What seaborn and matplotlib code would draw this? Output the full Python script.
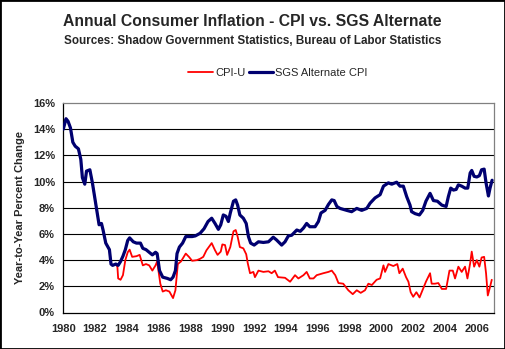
import numpy as np
import pandas as pd
import matplotlib
matplotlib.use("Agg")
import matplotlib.pyplot as plt
import seaborn as sns
from matplotlib.patches import Rectangle
from matplotlib.ticker import FixedLocator, FuncFormatter

# ---------------- data ----------------
sgs_years = [1980.0, 1980.17, 1980.3, 1980.45, 1980.6, 1980.75, 1980.95, 1981.1, 1981.2, 1981.35,
             1981.46, 1981.67, 1981.83, 1982.0, 1982.1, 1982.25, 1982.4, 1982.5, 1982.67, 1982.9,
             1983.0, 1983.1, 1983.3, 1983.45, 1983.6, 1983.75, 1983.9, 1984.05, 1984.17, 1984.4,
             1984.6, 1984.85, 1985.0, 1985.2, 1985.4, 1985.6, 1985.8, 1985.9, 1986.05, 1986.25,
             1986.55, 1986.75, 1986.9, 1987.05, 1987.15, 1987.3, 1987.5, 1987.7, 1988.1, 1988.3,
             1988.6, 1988.85, 1989.1, 1989.33, 1989.54, 1989.75, 1989.9, 1990.06, 1990.23, 1990.38,
             1990.5, 1990.7, 1990.84, 1990.96, 1991.1, 1991.32, 1991.5, 1991.64, 1991.78, 1992.0,
             1992.27, 1992.58, 1992.9, 1993.2, 1993.4, 1993.73, 1993.94, 1994.15, 1994.36, 1994.68,
             1994.9, 1995.1, 1995.3, 1995.5, 1995.83, 1996.04, 1996.2, 1996.46, 1996.67, 1996.88,
             1997.03, 1997.2, 1997.4, 1997.82, 1998.13, 1998.45, 1998.76, 1999.08, 1999.29, 1999.6,
             1999.92, 2000.13, 2000.44, 2000.65, 2000.96, 2001.17, 2001.38, 2001.59, 2001.8, 2001.9,
             2002.12, 2002.39, 2002.6, 2002.8, 2003.06, 2003.27, 2003.52, 2003.8, 2004.07, 2004.21,
             2004.36, 2004.53, 2004.7, 2004.84, 2005.05, 2005.26, 2005.43, 2005.58, 2005.68, 2005.83,
             2006.0, 2006.16, 2006.3, 2006.46, 2006.58, 2006.73, 2006.83, 2006.96]
sgs_values = [14.0, 14.8, 14.6, 14.1, 13.0, 12.7, 12.5, 11.7, 10.3, 9.8,
              10.8, 10.9, 9.9, 8.6, 7.8, 6.7, 6.8, 6.3, 5.3, 4.8,
              3.7, 3.6, 3.7, 3.6, 3.9, 4.3, 4.8, 5.5, 5.7, 5.4,
              5.3, 5.3, 4.9, 4.8, 4.6, 4.4, 4.6, 4.5, 3.2, 2.7,
              2.6, 2.5, 2.7, 3.2, 4.5, 5.0, 5.3, 5.8, 5.8, 5.85,
              6.05, 6.4, 6.95, 7.2, 6.8, 6.35, 6.7, 7.45, 7.35, 6.95,
              7.6, 8.5, 8.6, 8.2, 7.45, 7.2, 6.8, 5.8, 5.3, 5.15,
              5.4, 5.35, 5.4, 5.75, 5.55, 5.15, 5.4, 5.85, 5.9, 6.3,
              6.2, 6.45, 6.8, 6.55, 6.55, 6.95, 7.6, 7.8, 8.25, 8.6,
              8.55, 8.1, 7.95, 7.8, 7.7, 7.95, 7.8, 7.95, 8.35, 8.75,
              9.0, 9.65, 9.9, 9.8, 9.95, 9.65, 9.65, 8.85, 8.2, 7.7,
              7.55, 7.45, 7.8, 8.5, 9.1, 8.55, 8.5, 8.2, 8.1, 8.85,
              9.5, 9.35, 9.4, 9.75, 9.65, 9.5, 9.5, 10.65, 10.85, 10.4,
              10.35, 10.45, 10.9, 10.95, 9.9, 8.9, 9.5, 10.1]

cpi_years = [1980.0, 1980.17, 1980.3, 1980.45, 1980.6, 1980.75, 1980.95, 1981.1, 1981.2, 1981.35,
             1981.46, 1981.67, 1981.83, 1982.0, 1982.1, 1982.25, 1982.4, 1982.5, 1982.67, 1982.9,
             1983.0, 1983.1, 1983.3, 1983.4, 1983.45, 1983.6, 1983.75, 1983.9, 1984.05, 1984.17,
             1984.33, 1984.6, 1984.8, 1985.0, 1985.2, 1985.4, 1985.6, 1985.8, 1985.9, 1986.1,
             1986.25, 1986.45, 1986.67, 1986.9, 1987.05, 1987.2, 1987.4, 1987.7, 1987.9, 1988.1,
             1988.4, 1988.6, 1988.8, 1989.0, 1989.33, 1989.54, 1989.7, 1989.9, 1990.0, 1990.17,
             1990.3, 1990.5, 1990.7, 1990.84, 1990.96, 1991.1, 1991.32, 1991.5, 1991.6, 1991.74,
             1991.95, 1992.05, 1992.27, 1992.58, 1992.9, 1993.1, 1993.3, 1993.5, 1993.94, 1994.26,
             1994.57, 1994.78, 1995.1, 1995.3, 1995.5, 1995.73, 1995.93, 1996.35, 1996.67, 1996.88,
             1997.1, 1997.3, 1997.6, 1997.92, 1998.2, 1998.45, 1998.7, 1998.97, 1999.18, 1999.4,
             1999.7, 1999.92, 2000.13, 2000.23, 2000.44, 2000.75, 2001.0, 2001.13, 2001.34, 2001.55,
             2001.7, 2001.84, 2002.0, 2002.2, 2002.4, 2002.6, 2002.8, 2003.06, 2003.16, 2003.37,
             2003.58, 2003.8, 2004.07, 2004.28, 2004.49, 2004.63, 2004.84, 2005.05, 2005.26, 2005.41,
             2005.58, 2005.68, 2005.83, 2006.0, 2006.16, 2006.3, 2006.46, 2006.58, 2006.69, 2006.83,
             2006.94]
cpi_values = [14.0, 14.8, 14.6, 14.1, 13.0, 12.7, 12.5, 11.7, 10.3, 9.8,
              10.8, 10.9, 9.9, 8.6, 7.8, 6.7, 6.8, 6.3, 5.3, 4.8,
              3.7, 3.6, 3.7, 3.5, 2.6, 2.5, 2.85, 4.0, 4.6, 4.8,
              4.25, 4.3, 4.4, 3.6, 3.7, 3.6, 3.2, 3.6, 3.9, 2.2,
              1.6, 1.7, 1.6, 1.1, 1.7, 3.7, 3.9, 4.5, 4.25, 3.95,
              4.0, 4.1, 4.25, 4.75, 5.3, 4.75, 4.4, 4.65, 5.2, 5.15,
              4.4, 5.0, 6.2, 6.3, 5.8, 5.0, 4.9, 4.45, 3.75, 3.0,
              3.1, 2.7, 3.2, 3.1, 3.15, 3.0, 3.2, 2.7, 2.65, 2.35,
              2.85, 2.6, 2.85, 3.1, 2.6, 2.6, 2.85, 3.0, 3.1, 3.2,
              2.85, 2.25, 2.2, 1.7, 1.4, 1.7, 1.5, 1.7, 2.2, 2.1,
              2.5, 2.6, 3.6, 3.1, 3.7, 3.55, 3.7, 3.0, 3.35, 2.7,
              2.35, 1.55, 1.2, 1.55, 1.15, 1.75, 2.35, 3.0, 2.2, 2.2,
              2.25, 1.8, 1.8, 3.2, 3.2, 2.6, 3.5, 3.1, 3.5, 2.6,
              3.75, 4.65, 3.5, 4.0, 3.5, 4.2, 4.25, 3.0, 1.3, 1.95,
              2.5]

y_ticks = [0, 2, 4, 6, 8, 10, 12, 14, 16]
x_label_years = list(range(1980, 2007, 2))
series_names = ["CPI-U", "SGS Alternate CPI"]

# ---------------- style ----------------
sns.set_theme(style="white")
plt.rcParams["font.family"] = ["Liberation Sans", "DejaVu Sans"]

W, H = 505, 349
fig = plt.figure(figsize=(W / 100, H / 100), dpi=100)
fig.patch.set_facecolor("white")

L, R, T, B = 63.3, 494, 103, 312.5
ax = fig.add_axes([L / W, 1 - B / H, (R - L) / W, (B - T) / H])
ax.set_facecolor("white")

df_cpi = pd.DataFrame({"year": cpi_years, "value": cpi_values, "series": series_names[0]})
df_sgs = pd.DataFrame({"year": sgs_years, "value": sgs_values, "series": series_names[1]})

sns.lineplot(data=df_cpi, x="year", y="value", ax=ax, color="#ff0000",
             linewidth=1.3, sort=False, label=series_names[0], zorder=3)
sns.lineplot(data=df_sgs, x="year", y="value", ax=ax, color="#000070",
             linewidth=2.3, sort=False, label=series_names[1], zorder=4)

ax.set_xlim(1980, 2007.08)
ax.set_ylim(0, 16)
ax.set_xlabel("")
ax.set_ylabel("")

# grid lines
for yv in y_ticks[1:-1]:
    ax.axhline(yv, color="black", linewidth=0.8, zorder=1)

# spines
for s in ["left", "bottom"]:
    ax.spines[s].set_color("black")
    ax.spines[s].set_linewidth(0.9)
for s in ["top", "right"]:
    ax.spines[s].set_color("#808080")
    ax.spines[s].set_linewidth(0.9)

ax.yaxis.set_major_locator(FixedLocator(y_ticks))
ax.yaxis.set_major_formatter(FuncFormatter(lambda v, p: f"{int(v)}%"))
ax.xaxis.set_major_locator(FixedLocator(list(range(1980, 2008))))
ax.xaxis.set_major_formatter(FuncFormatter(lambda v, p: f"{int(round(v))}" if int(round(v)) in x_label_years else ""))
ax.tick_params(axis="both", which="major", direction="out", length=3, width=0.8,
               color="black", labelsize=8, pad=3)
ax.tick_params(axis="x", pad=5)
for lab in ax.get_xticklabels() + ax.get_yticklabels():
    lab.set_fontweight("bold")

# titles
fig.text(0.5, 1 - 22 / H, "Annual Consumer Inflation - CPI vs. SGS Alternate",
         ha="center", va="center", fontsize=11.3, fontweight="bold")
fig.text(0.5, 1 - 41 / H, "Sources: Shadow Government Statistics, Bureau of Labor Statistics",
         ha="center", va="center", fontsize=8.4, fontweight="bold")
fig.text(20 / W, 1 - 207 / H, "Year-to-Year Percent Change", rotation=90,
         ha="center", va="center", fontsize=8, fontweight="bold")

# legend
leg = ax.legend(loc="center", bbox_to_anchor=(278 / W, 1 - 73 / H),
                bbox_transform=fig.transFigure, ncol=2, frameon=False,
                fontsize=8, handlelength=2.2, handletextpad=0.2, columnspacing=0.3,
                borderpad=0, borderaxespad=0)

# figure border
fig.patches.append(Rectangle((0, 0), 1, 1, transform=fig.transFigure, fill=False,
                             edgecolor="black", linewidth=2, zorder=10))

fig.savefig("out.png", dpi=100)
